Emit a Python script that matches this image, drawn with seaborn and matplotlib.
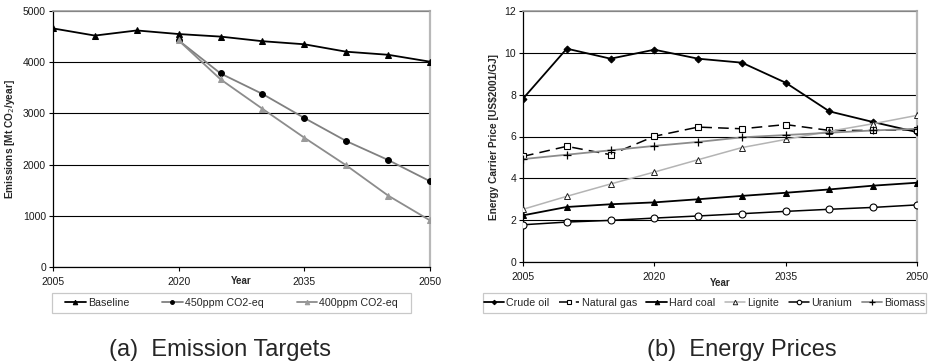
import numpy as np
import pandas as pd
import matplotlib
matplotlib.use("Agg")
import matplotlib.pyplot as plt
from matplotlib.patches import Rectangle
import seaborn as sns

# ---- data -------------------------------------------------------------
years = [2005, 2010, 2015, 2020, 2025, 2030, 2035, 2040, 2045, 2050]
year_ticks = [2005, 2020, 2035, 2050]

baseline = [4660, 4520, 4620, 4550, 4500, 4410, 4350, 4205, 4145, 4010]
ppm450 = [np.nan, np.nan, np.nan, 4425, 3780, 3380, 2910, 2460, 2090, 1675]
ppm400 = [np.nan, np.nan, np.nan, 4425, 3665, 3090, 2525, 1985, 1395, 910]

crude_oil = [7.81, 10.20, 9.72, 10.15, 9.72, 9.53, 8.57, 7.20, 6.69, 6.21]
natural_gas = [5.05, 5.53, 5.13, 6.01, 6.45, 6.37, 6.57, 6.29, 6.29, 6.33]
hard_coal = [2.23, 2.63, 2.76, 2.85, 3.00, 3.16, 3.31, 3.47, 3.65, 3.79]
lignite = [2.52, 3.14, 3.73, 4.30, 4.89, 5.47, 5.86, 6.25, 6.61, 7.01]
uranium = [1.78, 1.91, 1.99, 2.10, 2.20, 2.31, 2.42, 2.52, 2.61, 2.73]
biomass = [4.92, 5.13, 5.34, 5.55, 5.74, 5.96, 6.07, 6.18, 6.29, 6.37]

emis = pd.DataFrame({"Year": years, "Baseline": baseline,
                     "450ppm CO2-eq": ppm450, "400ppm CO2-eq": ppm400})
prices = pd.DataFrame({"Year": years, "Crude oil": crude_oil,
                       "Natural gas": natural_gas, "Hard coal": hard_coal,
                       "Lignite": lignite, "Uranium": uranium,
                       "Biomass": biomass})

# ---- style ------------------------------------------------------------
sns.set_theme(style="white")
plt.rcParams["font.family"] = ["Liberation Sans", "DejaVu Sans"]
plt.rcParams["axes.unicode_minus"] = False

fig = plt.figure(figsize=(9.29, 3.64), dpi=100)
W, H = 929, 364


def px_axes(x0, y0, x1, y1):
    return fig.add_axes([x0 / W, 1 - y1 / H, (x1 - x0) / W, (y1 - y0) / H])


ax1 = px_axes(53, 11, 430, 267)
ax2 = px_axes(523, 11, 917, 262)

emis_styles = {
    "Baseline": dict(color="black", lw=1.3, marker="^", ms=5,
                     mfc="black", mec="black"),
    "450ppm CO2-eq": dict(color="#808080", lw=1.3, marker="o", ms=4.2,
                          mfc="black", mec="black"),
    "400ppm CO2-eq": dict(color="#8c8c8c", lw=1.3, marker="^", ms=5,
                          mfc="#9a9a9a", mec="#9a9a9a"),
}
price_styles = {
    "Crude oil": dict(color="black", lw=1.3, marker="D", ms=3.5,
                      mfc="black", mec="black"),
    "Natural gas": dict(color="black", lw=1.1, ls=(0, (7, 4)), marker="s",
                        ms=5, mfc="white", mec="black", mew=0.8),
    "Hard coal": dict(color="black", lw=1.3, marker="^", ms=5,
                      mfc="black", mec="black"),
    "Lignite": dict(color="#b4b4b4", lw=1.1, marker="^", ms=5,
                    mfc="white", mec="#202020", mew=0.7),
    "Uranium": dict(color="black", lw=1.1, marker="o", ms=5,
                    mfc="white", mec="black", mew=0.8),
    "Biomass": dict(color="#8c8c8c", lw=1.3, marker="+", ms=6,
                    mfc="black", mec="black", mew=0.9),
}

for name, st in emis_styles.items():
    sns.lineplot(data=emis, x="Year", y=name, ax=ax1, label=name,
                 legend=False, zorder=3, **st)
for name, st in price_styles.items():
    sns.lineplot(data=prices, x="Year", y=name, ax=ax2, label=name,
                 legend=False, zorder=3, **st)


def frame(ax, ymax, ystep, ylabel, xlabel_y):
    ax.set_xlim(2005, 2050)
    ax.set_ylim(0, ymax)
    ax.set_xticks(year_ticks)
    ax.set_yticks(np.arange(0, ymax + ystep / 2, ystep))
    ax.tick_params(axis="both", which="major", labelsize=7.5, length=3,
                   width=0.8, color="black", pad=2, direction="out",
                   bottom=True, left=True, labelcolor="#1a1a1a")
    ax.tick_params(axis="x", pad=4)
    ax.yaxis.grid(True, color="black", lw=0.8)
    ax.xaxis.grid(False)
    ax.set_axisbelow(True)
    for s in ("left", "bottom"):
        ax.spines[s].set_color("black")
        ax.spines[s].set_linewidth(0.9)
    ax.spines["top"].set_color("#a0a0a0")
    ax.spines["top"].set_linewidth(1.2)
    ax.spines["right"].set_color("#b8b8b8")
    ax.spines["right"].set_linewidth(1.6)
    ax.set_xlabel("Year", fontsize=7, fontweight="bold")
    ax.xaxis.set_label_coords(0.5, xlabel_y)
    ax.set_ylabel(ylabel, fontsize=7.3, fontweight="bold", labelpad=4)
    ax.set_facecolor("white")


frame(ax1, 5000, 1000, "Emissions [Mt CO$_2$/year]", -0.035)
frame(ax2, 12, 2, "Energy Carrier Price [US\\$2001/GJ]", -0.065)

legend_kw = dict(loc="center", fontsize=7.7, frameon=False,
                 handlelength=1.9, handletextpad=0.2, borderpad=0,
                 borderaxespad=0, markerscale=0.65)


def legend_box(ax, x0, x1, ncol, colspace):
    """Legend centred in a light grey box spanning x0..x1 (pixels)."""
    y0, y1 = 293, 313
    fig.add_artist(Rectangle((x0 / W, 1 - y1 / H), (x1 - x0) / W,
                             (y1 - y0) / H, transform=fig.transFigure,
                             facecolor="white", edgecolor="#c8c8c8",
                             lw=0.9, zorder=1))
    h, l = ax.get_legend_handles_labels()
    leg = fig.legend(h, l, ncol=ncol, columnspacing=colspace,
                     bbox_to_anchor=((x0 + x1) / 2 / W, 1 - (y0 + y1) / 2 / H),
                     **legend_kw)
    leg.set_zorder(2)
    return leg


legend_box(ax1, 52, 411, 3, 3.1)
legend_box(ax2, 483, 926, 6, 0.9)

fig.text(220 / W, 1 - 350 / H, "(a)  Emission Targets", ha="center",
         va="center", fontsize=17)
fig.text(742 / W, 1 - 350 / H, "(b)  Energy Prices", ha="center",
         va="center", fontsize=17)

fig.savefig("out.png", dpi=100, facecolor="white")
